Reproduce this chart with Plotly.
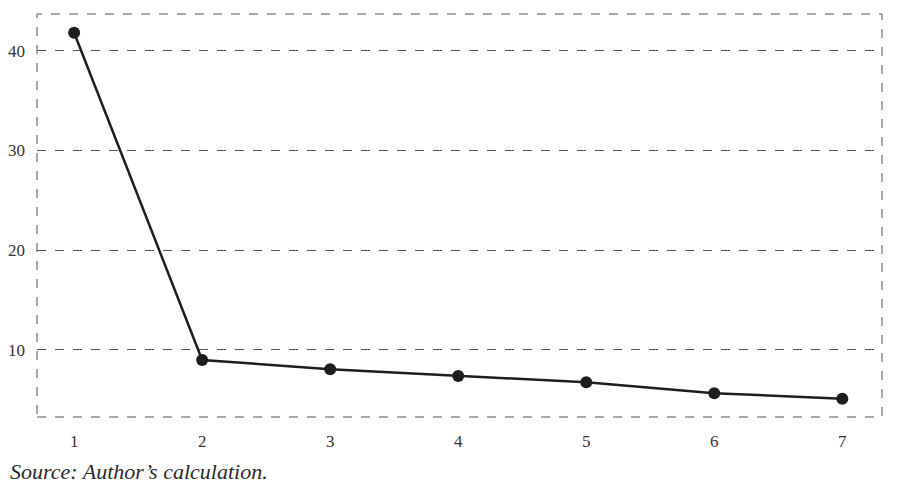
import plotly.graph_objects as go

x_vals = [1, 2, 3, 4, 5, 6, 7]
y_vals = [41.8, 9.0, 8.07, 7.39, 6.76, 5.66, 5.12]
y_ticks = [10, 20, 30, 40]
source_text = "Source: Author’s calculation."

SERIF = "'Liberation Serif', 'Times New Roman', Times, serif"

fig = go.Figure()
fig.add_trace(go.Scatter(
    x=x_vals, y=y_vals, mode="lines+markers",
    line=dict(color="#1e1e1e", width=2.5),
    marker=dict(color="#1e1e1e", size=12),
    showlegend=False,
))

fig.update_layout(
    width=892, height=485,
    margin=dict(l=29, r=18, t=6, b=76),
    paper_bgcolor="white", plot_bgcolor="white",
    font=dict(family=SERIF, size=17, color="#3a3030"),
    xaxis=dict(range=[0.71, 7.31], tickvals=x_vals, showgrid=False, automargin=False,
               zeroline=False, showline=False, ticks="", ticklabelstandoff=12),
    yaxis=dict(range=[3.28, 43.68], tickvals=y_ticks, showgrid=True, automargin=False,
               gridcolor="#555555", griddash="dash", gridwidth=1,
               zeroline=False, showline=False, ticks="", ticklabelstandoff=11),
    shapes=[dict(type="rect", xref="paper", yref="paper", x0=0, y0=0, x1=1, y1=1,
                 line=dict(color="#555555", width=1, dash="dash"), layer="below")],
    annotations=[dict(text=source_text, xref="paper", yref="paper", x=-0.034, y=-0.1,
                      xanchor="left", yanchor="top", showarrow=False,
                      font=dict(family=SERIF, size=22, color="#2a2a2a", style="italic"))],
)

fig.write_html("out.html")
